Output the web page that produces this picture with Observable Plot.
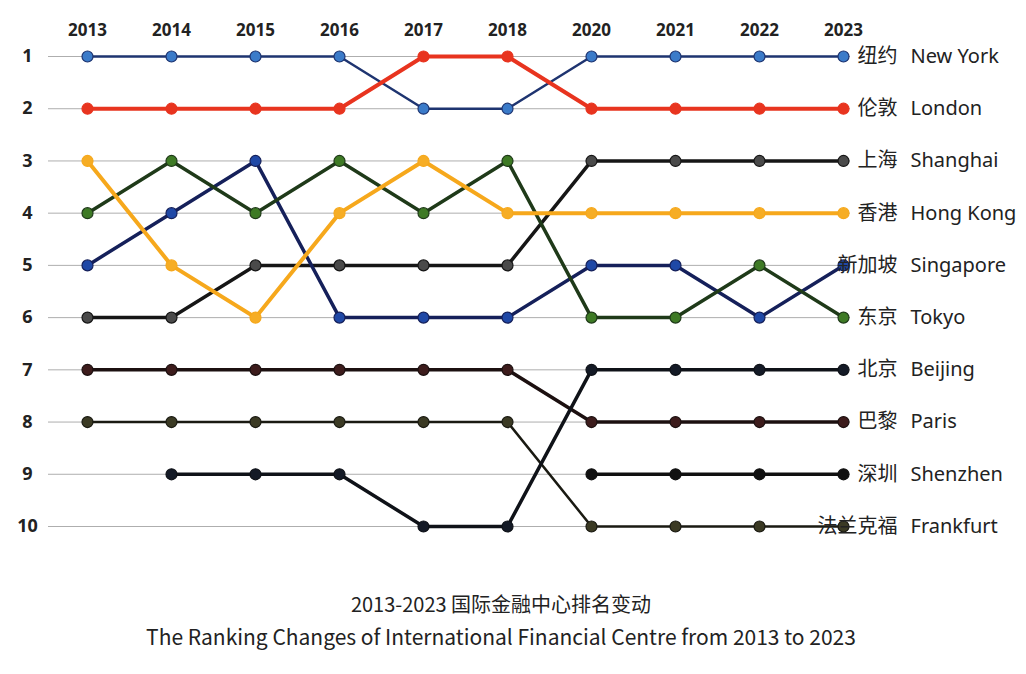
<!DOCTYPE html>
<html>
<head>
<meta charset="utf-8">
<script src="https://cdn.jsdelivr.net/npm/d3@7"></script>
<script src="https://cdn.jsdelivr.net/npm/@observablehq/plot@0.6"></script>
<style>
  html, body { margin: 0; padding: 0; background: #fff; }
  #chart svg { display: block; }
  .title { width: 1002px; text-align: center; font-family: "Noto Sans CJK SC", "Noto Sans", sans-serif; color: #222; line-height: 32px; }
  .title1 { margin-top: 18px; font-size: 20px; }
  .title2 { font-size: 21px; }
</style>
</head>
<body>
<div id="chart"></div>
<div class="title title1">2013-2023 国际金融中心排名变动</div>
<div class="title title2">The Ranking Changes of International Financial Centre from 2013 to 2023</div>
<script>
const years = ["2013","2014","2015","2016","2017","2018","2020","2021","2022","2023"];
const rankTicks = [1,2,3,4,5,6,7,8,9,10];
const citiesEn = ["New York","London","Shanghai","Hong Kong","Singapore","Tokyo","Beijing","Paris","Shenzhen","Frankfurt"];
const citiesZh = ["纽约","伦敦","上海","香港","新加坡","东京","北京","巴黎","深圳","法兰克福"];
const newYork   = [1,1,1,1,2,2,1,1,1,1];
const london    = [2,2,2,2,1,1,2,2,2,2];
const shanghai  = [6,6,5,5,5,5,3,3,3,3];
const hongKong  = [3,5,6,4,3,4,4,4,4,4];
const singapore = [5,4,3,6,6,6,5,5,6,5];
const tokyo     = [4,3,4,3,4,3,6,6,5,6];
const beijing   = [null,9,9,9,10,10,7,7,7,7];
const paris     = [7,7,7,7,7,7,8,8,8,8];
const shenzhen  = [null,null,null,null,null,null,9,9,9,9];
const frankfurt = [8,8,8,8,8,8,10,10,10,10];

const series = [newYork, london, shanghai, hongKong, singapore, tokyo, beijing, paris, shenzhen, frankfurt];
const lineColors  = ["#1e3470","#e8341f","#161616","#f6a81c","#15205a","#1f3a19","#0f1218","#1c1010","#101010","#1a1a12"];
const pointColors = ["#3b7bc9","#e8341f","#4a4a4a","#f6ad25","#1f48a6","#3e7a25","#141a26","#3d1c1c","#111111","#3b3a24"];
const lineWidths  = [2.5,4,3.5,4,3.5,3.5,3.5,3.5,3.5,2.5];

const drawOrder = [9,8,7,6,2,4,5,3,0,1];

const rows = series.map((s, i) => years.map((y, j) => ({city: citiesEn[i], year: y, rank: s[j]})));

const marks = [
  Plot.ruleY(rankTicks, {stroke: "#9a9a9a", strokeWidth: 1, strokeOpacity: 0.8}),
  Plot.text(rankTicks, {y: d => d, text: d => String(d), frameAnchor: "left", dx: -21, textAnchor: "middle", lineAnchor: "middle", fontSize: 18, fontWeight: "bold", fill: "#222"}),
  Plot.text(years, {x: d => d, text: d => d, frameAnchor: "top", lineAnchor: "middle", dy: -10, fontSize: 17, fontWeight: "bold", fill: "#222"})
];
for (const i of drawOrder) {
  marks.push(Plot.line(rows[i], {x: "year", y: "rank", stroke: lineColors[i], strokeWidth: lineWidths[i]}));
}
for (const i of drawOrder) {
  marks.push(Plot.dot(rows[i].filter(d => d.rank != null), {x: "year", y: "rank", r: 5.5, fill: pointColors[i], stroke: lineColors[i], strokeWidth: 1.2}));
}
const labels = citiesEn.map((c, i) => ({en: c, zh: citiesZh[i], year: years[years.length - 1], rank: series[i][series[i].length - 1]}));
marks.push(Plot.text(labels, {x: "year", y: "rank", text: "zh", textAnchor: "end", dx: 54, fontSize: 20, fill: "#222", fontFamily: "Noto Sans CJK SC"}));
marks.push(Plot.text(labels, {x: "year", y: "rank", text: "en", textAnchor: "start", dx: 67, fontSize: 20, fill: "#222", fontFamily: "Noto Sans"}));

const chart = Plot.plot({
  width: 1026,
  height: 570,
  marginTop: 40,
  marginLeft: 48,
  marginRight: 176,
  marginBottom: 30,
  x: {type: "point", domain: years, range: [87, 843], padding: 0, axis: null},
  y: {domain: [1, 10], range: [56, 526], axis: null},
  style: {fontFamily: "Noto Sans, sans-serif", background: "#fff"},
  marks
});
document.getElementById("chart").appendChild(chart);
</script>
</body>
</html>
